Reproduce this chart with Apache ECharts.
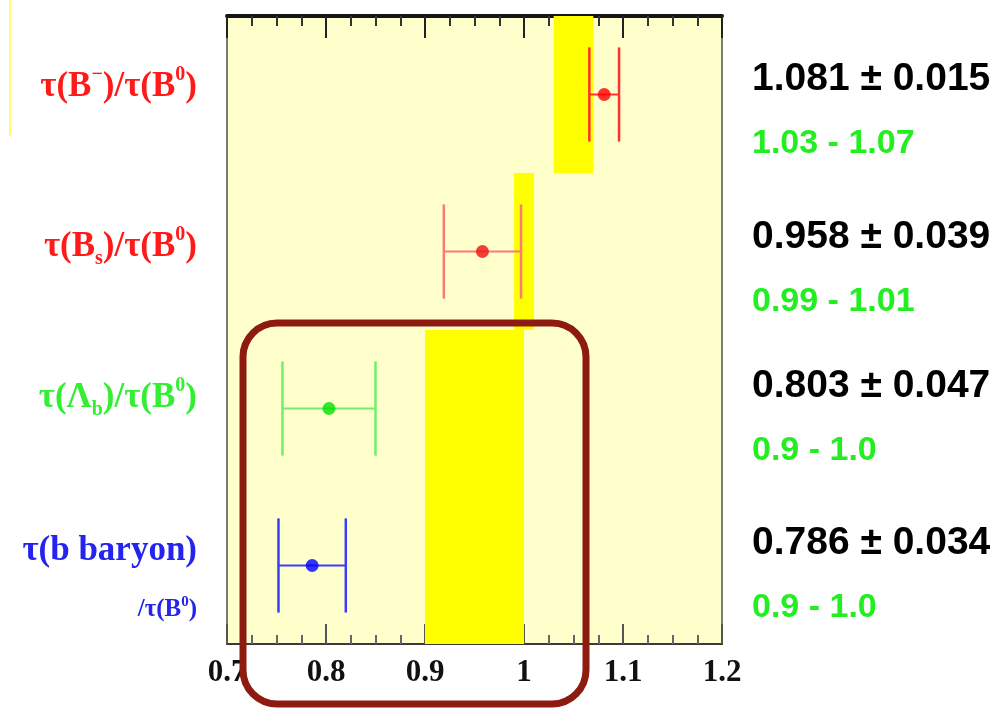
<!DOCTYPE html>
<html>
<head>
<meta charset="utf-8">
<script src="https://cdn.jsdelivr.net/npm/echarts@6/dist/echarts.min.js"></script>
<style>
  html, body { margin: 0; padding: 0; background: #ffffff; }
  #chart { width: 1000px; height: 712px; }
</style>
</head>
<body>
<div id="chart"></div>
<script>
// Lifetime ratios relative to B0: measurements and theory ranges
const rowKeys = ['Bminus', 'Bs', 'LambdaB', 'bBaryon'];
const measured = [1.081, 0.958, 0.803, 0.786];
const errors = [0.015, 0.039, 0.047, 0.034];
const theoryLow = [1.03, 0.99, 0.9, 0.9];
const theoryHigh = [1.07, 1.01, 1.0, 1.0];
const theoryText = ['1.03 - 1.07', '0.99 - 1.01', '0.9 - 1.0', '0.9 - 1.0'];
const xMin = 0.7, xMax = 1.2, xStep = 0.1;

// Per-row styling
const rowLabelColor = ['#FF1A1A', '#FF1A1A', '#33EE33', '#2424EE'];
const barColor = ['#FF3030', '#FF7878', '#6EF06E', '#3C3CFF'];
const dotColor = ['#FF0000', '#F01010', '#00E000', '#0000FF'];

const rowLabelRich = [
  '{m|τ(B}{sup|−}{m|)/τ(B}{sup|0}{m|)}',
  '{m|τ(B}{sub|s}{m|)/τ(B}{sup|0}{m|)}',
  '{m|τ(Λ}{sub|b}{m|)/τ(B}{sup|0}{m|)}',
  '{mb|τ(b baryon)}\n{s|/τ(B}{ssup|0}{s|)}'
];
const rowLabelPadding = [[0, 0, 16, 0], [0, 0, 10, 0], [0, 0, 22, 0], [0, 0, 0, 0]];
const valueLabelPadding = [[34, 0, 0, 0], [36, 0, 0, 0], [20, 0, 0, 0], [20, 0, 0, 0]];

const serif = 'Liberation Serif';
const sans = 'Liberation Sans';

const chart = echarts.init(document.getElementById('chart'), null, { renderer: 'canvas' });

const bandData = rowKeys.map((k, i) => [i, theoryLow[i], theoryHigh[i]]);
const errData = rowKeys.map((k, i) => [i, measured[i] - errors[i], measured[i] + errors[i], measured[i]]);
const dotData = rowKeys.map((k, i) => ({ value: [measured[i], i], itemStyle: { color: dotColor[i] } }));
const leftAxisData = rowKeys.map((k, i) => ({ value: k, textStyle: { padding: rowLabelPadding[i] } }));
const rightAxisData = rowKeys.map((k, i) => ({ value: k, textStyle: { padding: valueLabelPadding[i] } }));

const option = {
  animation: false,
  backgroundColor: '#ffffff',
  grid: {
    left: 227, right: 278, top: 16, bottom: 68,
    show: true,
    backgroundColor: '#FFFFCC',
    borderColor: '#7a7a7a',
    borderWidth: 2
  },
  xAxis: [
    {
      type: 'value', position: 'bottom',
      min: xMin, max: xMax, interval: xStep,
      splitLine: { show: false },
      axisLine: { show: true, lineStyle: { color: '#3a3a3a', width: 2 } },
      axisTick: { show: true, inside: true, length: 20, lineStyle: { color: '#555', width: 2 } },
      minorTick: { show: true, splitNumber: 4, length: 9, lineStyle: { color: '#666', width: 2 } },
      axisLabel: {
        margin: 13, color: '#111', fontFamily: serif, fontWeight: 'bold', fontSize: 31
      }
    },
    {
      type: 'value', position: 'top',
      min: xMin, max: xMax, interval: xStep,
      splitLine: { show: false },
      axisLine: { show: true, lineStyle: { color: '#151515', width: 4 } },
      axisTick: { show: true, inside: true, length: 22, lineStyle: { color: '#222', width: 2 } },
      minorTick: { show: true, splitNumber: 4, length: 10, lineStyle: { color: '#333', width: 2 } },
      axisLabel: { show: false }
    }
  ],
  yAxis: [
    {
      type: 'category', position: 'left', inverse: true,
      data: leftAxisData,
      axisLine: { show: false }, axisTick: { show: false }, splitLine: { show: false },
      axisLabel: {
        margin: 30,
        align: 'right',
        color: (v, i) => rowLabelColor[i],
        formatter: (v, i) => rowLabelRich[i],
        rich: {
          m: { fontFamily: serif, fontWeight: 'bold', fontSize: 35, lineHeight: 44 },
          mb: { fontFamily: serif, fontWeight: 'bold', fontSize: 35, lineHeight: 88 },
          sup: { fontFamily: serif, fontWeight: 'bold', fontSize: 20, lineHeight: 20, verticalAlign: 'top' },
          sub: { fontFamily: serif, fontWeight: 'bold', fontSize: 20, lineHeight: 20, verticalAlign: 'bottom' },
          s: { fontFamily: serif, fontWeight: 'bold', fontSize: 25, lineHeight: 30 },
          ssup: { fontFamily: serif, fontWeight: 'bold', fontSize: 15, lineHeight: 15, verticalAlign: 'top' }
        }
      }
    },
    {
      type: 'category', position: 'right', inverse: true,
      data: rightAxisData,
      axisLine: { show: false }, axisTick: { show: false }, splitLine: { show: false },
      axisLabel: {
        margin: 30,
        align: 'left',
        formatter: (v, i) => '{v|' + measured[i].toFixed(3) + ' ± ' + errors[i].toFixed(3) + '}\n{g|' + theoryText[i] + '}',
        rich: {
          v: { fontFamily: sans, fontWeight: 'bold', fontSize: 39, lineHeight: 64, color: '#000000' },
          g: { fontFamily: sans, fontWeight: 'bold', fontSize: 34, lineHeight: 64, color: '#22EE22' }
        }
      }
    }
  ],
  series: [
    {
      // theory ranges as filled bands spanning each row
      type: 'custom',
      name: 'theory',
      xAxisIndex: 0, yAxisIndex: 0,
      clip: true,
      z: 3,
      encode: { x: [1, 2], y: 0 },
      data: bandData,
      renderItem: function (params, api) {
        const i = api.value(0);
        const a = api.coord([api.value(1), i]);
        const b = api.coord([api.value(2), i]);
        const h = api.size([0, 1])[1];
        return {
          type: 'rect',
          shape: { x: a[0], y: a[1] - h / 2, width: b[0] - a[0], height: h },
          style: { fill: '#FFFF00' }
        };
      }
    },
    {
      // measurement error bars
      type: 'custom',
      name: 'errors',
      xAxisIndex: 0, yAxisIndex: 0,
      z: 4,
      encode: { x: [1, 2], y: 0 },
      data: errData,
      renderItem: function (params, api) {
        const i = api.value(0);
        const a = api.coord([api.value(1), i]);
        const b = api.coord([api.value(2), i]);
        const half = api.size([0, 1])[1] * 0.3;
        const c = barColor[i];
        return {
          type: 'group',
          children: [
            { type: 'line', shape: { x1: a[0], y1: a[1], x2: b[0], y2: b[1] }, style: { stroke: c, lineWidth: 2 } },
            { type: 'line', shape: { x1: a[0], y1: a[1] - half, x2: a[0], y2: a[1] + half }, style: { stroke: c, lineWidth: 2.5 } },
            { type: 'line', shape: { x1: b[0], y1: b[1] - half, x2: b[0], y2: b[1] + half }, style: { stroke: c, lineWidth: 2.5 } }
          ]
        };
      }
    },
    {
      type: 'scatter',
      name: 'central',
      xAxisIndex: 0, yAxisIndex: 0,
      z: 5,
      symbol: 'circle',
      symbolSize: 13,
      data: dotData
    }
  ],
  graphic: [
    {
      type: 'line',
      shape: { x1: 10, y1: 0, x2: 10, y2: 136 },
      style: { stroke: '#FFFF70', lineWidth: 2 },
      z: 1
    },
    {
      type: 'rect',
      shape: { x: 243, y: 323, width: 343, height: 381, r: 34 },
      style: { fill: null, stroke: '#8E1B10', lineWidth: 7 },
      z: 100
    }
  ]
};

chart.setOption(option);
</script>
</body>
</html>
